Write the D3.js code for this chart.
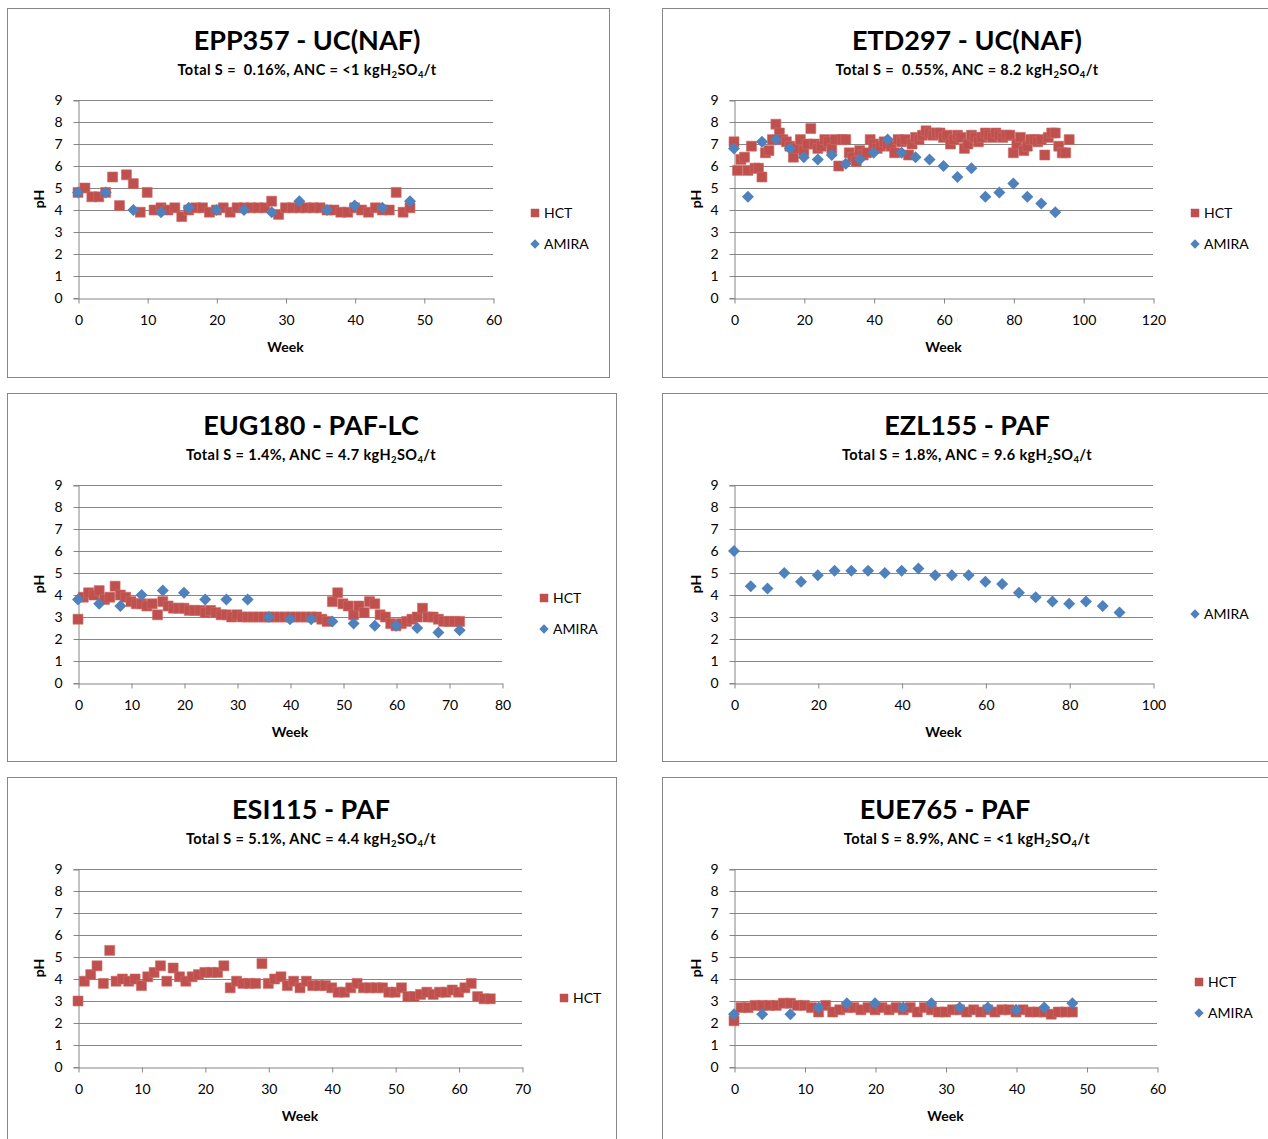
<!DOCTYPE html>
<html>
<head>
<meta charset="utf-8">
<script src="https://cdn.jsdelivr.net/npm/d3@7"></script>
<style>
  body { margin: 0; background: #fff; }
  svg text { font-family: Lato, 'Open Sans', sans-serif; fill: #000; }
</style>
</head>
<body>
<svg id="chart" width="1268" height="1139"></svg>
<script>
// ---- chart texts ----
const titles = ['EPP357 - UC(NAF)', 'ETD297 - UC(NAF)', 'EUG180 - PAF-LC', 'EZL155 - PAF', 'ESI115 - PAF', 'EUE765 - PAF'];
const totalS = [' 0.16%', ' 0.55%', '1.4%', '1.8%', '5.1%', '8.9%'];
const anc = ['<1', '8.2', '4.7', '9.6', '4.4', '<1'];
const xMaxes = [60, 120, 80, 100, 70, 60];
const yTicks = [0, 1, 2, 3, 4, 5, 6, 7, 8, 9];

// ---- EPP357: HCT weekly from week 0, AMIRA every 4 weeks ----
const eppHct = [4.8, 5.0, 4.6, 4.6, 4.8, 5.5, 4.2, 5.6, 5.2, 3.9, 4.8, 4.0, 4.1, 4.0, 4.1, 3.7, 4.0, 4.1, 4.1, 3.9,
  4.0, 4.1, 3.9, 4.1, 4.1, 4.1, 4.1, 4.1, 4.4, 3.8, 4.1, 4.1, 4.1, 4.1, 4.1, 4.1, 4.0, 4.0, 3.9, 3.9,
  4.1, 4.0, 3.9, 4.1, 4.0, 4.0, 4.8, 3.9, 4.1];
const eppAmiraWeeks = [0, 4, 8, 12, 16, 20, 24, 28, 32, 36, 40, 44, 48];
const eppAmira = [4.8, 4.8, 4.0, 3.9, 4.1, 4.0, 4.0, 3.9, 4.4, 4.0, 4.2, 4.1, 4.4];

// ---- ETD297 ----
const etdHct = [7.1, 5.8, 6.3, 6.4, 5.8, 6.9, 5.9, 5.9, 5.5, 6.6, 6.7, 7.2, 7.9, 7.5, 7.2, 7.1, 6.9, 6.4, 6.8, 7.2,
  6.7, 7.0, 7.7, 7.0, 6.8, 6.9, 7.2, 7.1, 6.8, 7.2, 6.0, 7.2, 7.2, 6.6, 6.4, 6.2, 6.7, 6.5, 6.6, 7.2,
  7.0, 6.8, 6.9, 7.1, 7.0, 6.9, 6.6, 7.2, 7.1, 7.2, 6.5, 7.0, 7.3, 7.2, 7.4, 7.6, 7.5, 7.4, 7.5, 7.5,
  7.3, 7.4, 7.0, 7.2, 7.4, 7.3, 6.8, 7.0, 7.4, 7.3, 7.1, 7.3, 7.5, 7.4, 7.3, 7.5, 7.4, 7.3, 7.4, 7.4,
  6.6, 7.0, 7.3, 6.7, 6.9, 7.2, 7.2, 7.1, 7.2, 6.5, 7.3, 7.5, 7.5, 6.9, 6.6, 6.6, 7.2];
const etdAmiraWeeks = [0, 4, 8, 12, 16, 20, 24, 28, 32, 36, 40, 44, 48, 52, 56, 60, 64, 68, 72, 76, 80, 84, 88, 92];
const etdAmira = [6.8, 4.6, 7.1, 7.2, 6.8, 6.4, 6.3, 6.5, 6.1, 6.3, 6.6, 7.2, 6.6, 6.4, 6.3, 6.0, 5.5, 5.9,
  4.6, 4.8, 5.2, 4.6, 4.3, 3.9];

// ---- EUG180 ----
const eugHct = [2.9, 3.9, 4.1, 4.0, 4.2, 3.8, 3.9, 4.4, 4.0, 3.9, 3.7, 3.6, 3.6, 3.5, 3.6, 3.1, 3.7, 3.5, 3.4, 3.4,
  3.4, 3.3, 3.3, 3.3, 3.2, 3.3, 3.2, 3.1, 3.1, 3.0, 3.1, 3.0, 3.0, 3.0, 3.0, 3.0, 3.0, 3.0, 3.0, 3.0,
  3.0, 3.0, 3.0, 3.0, 3.0, 3.0, 2.9, 2.8, 3.7, 4.1, 3.6, 3.5, 3.1, 3.5, 3.2, 3.7, 3.6, 3.1, 3.0, 2.7,
  2.6, 2.7, 2.8, 2.9, 3.0, 3.4, 3.0, 3.0, 2.9, 2.8, 2.8, 2.8, 2.8];
const eugAmiraWeeks = [0, 4, 8, 12, 16, 20, 24, 28, 32, 36, 40, 44, 48, 52, 56, 60, 64, 68, 72];
const eugAmira = [3.8, 3.6, 3.5, 4.0, 4.2, 4.1, 3.8, 3.8, 3.8, 3.0, 2.9, 2.9, 2.8, 2.7, 2.6, 2.6, 2.5, 2.3, 2.4];

// ---- EZL155 (AMIRA only) ----
const ezlAmiraWeeks = [0, 4, 8, 12, 16, 20, 24, 28, 32, 36, 40, 44, 48, 52, 56, 60, 64, 68, 72, 76, 80, 84, 88, 92];
const ezlAmira = [6.0, 4.4, 4.3, 5.0, 4.6, 4.9, 5.1, 5.1, 5.1, 5.0, 5.1, 5.2, 4.9, 4.9, 4.9, 4.6, 4.5, 4.1,
  3.9, 3.7, 3.6, 3.7, 3.5, 3.2];

// ---- ESI115 (HCT only) ----
const esiHct = [3.0, 3.9, 4.2, 4.6, 3.8, 5.3, 3.9, 4.0, 3.9, 4.0, 3.7, 4.1, 4.3, 4.6, 3.9, 4.5, 4.1, 3.9, 4.1, 4.2,
  4.3, 4.3, 4.3, 4.6, 3.6, 3.9, 3.8, 3.8, 3.8, 4.7, 3.8, 4.0, 4.1, 3.7, 3.9, 3.6, 3.9, 3.7, 3.7, 3.7,
  3.6, 3.4, 3.4, 3.6, 3.8, 3.6, 3.6, 3.6, 3.6, 3.4, 3.4, 3.6, 3.2, 3.2, 3.3, 3.4, 3.3, 3.4, 3.4, 3.5,
  3.4, 3.6, 3.8, 3.2, 3.1, 3.1];

// ---- EUE765 ----
const eueHct = [2.1, 2.7, 2.7, 2.8, 2.8, 2.8, 2.8, 2.9, 2.9, 2.8, 2.8, 2.7, 2.5, 2.8, 2.5, 2.6, 2.7, 2.7, 2.6, 2.7,
  2.6, 2.7, 2.6, 2.7, 2.6, 2.7, 2.5, 2.7, 2.6, 2.5, 2.5, 2.6, 2.6, 2.5, 2.6, 2.5, 2.6, 2.5, 2.6, 2.6,
  2.5, 2.6, 2.5, 2.5, 2.5, 2.4, 2.5, 2.5, 2.5];
const eueAmiraWeeks = [0, 4, 8, 12, 16, 20, 24, 28, 32, 36, 40, 44, 48];
const eueAmira = [2.4, 2.4, 2.4, 2.7, 2.9, 2.9, 2.7, 2.9, 2.7, 2.7, 2.6, 2.7, 2.9];

const hctSeries = [eppHct, etdHct, eugHct, null, esiHct, eueHct];
const amiraWeeks = [eppAmiraWeeks, etdAmiraWeeks, eugAmiraWeeks, ezlAmiraWeeks, null, eueAmiraWeeks];
const amiraSeries = [eppAmira, etdAmira, eugAmira, ezlAmira, null, eueAmira];

// ---- layout ----
const HCT_COLOR = '#C0504D';
const AMIRA_COLOR = '#4F81BD';
const GRID = '#868686';
const boxes = [
  { x: 7, y: 8, w: 602, h: 369, left: 71, right: 486, tcx: 300 },
  { x: 662, y: 8, w: 608, h: 369, left: 72, right: 491, tcx: 305 },
  { x: 7, y: 393, w: 609, h: 368, left: 71, right: 495, tcx: 304 },
  { x: 662, y: 393, w: 608, h: 368, left: 72, right: 491, tcx: 305 },
  { x: 7, y: 777, w: 609, h: 370, left: 71, right: 515, tcx: 304 },
  { x: 662, y: 777, w: 608, h: 370, left: 72, right: 495, tcx: 283, scx: 305 }
];
const plotTop = 92;
const plotBottom = 290;

const svg = d3.select('#chart');
const square = d3.symbol().type(d3.symbolSquare);

function styleAxis(sel) {
  sel.select('.domain').attr('stroke', GRID);
  sel.selectAll('.tick line').attr('stroke', GRID);
  sel.selectAll('.tick text')
    .style('font-size', '14px')
    .style('font-family', 'Lato, sans-serif')
    .attr('fill', '#000');
}

titles.forEach((title, i) => {
  const b = boxes[i];
  const g = svg.append('g').attr('transform', `translate(${b.x}, ${b.y})`);

  g.append('rect')
    .attr('x', 0.5).attr('y', 0.5)
    .attr('width', b.w).attr('height', b.h)
    .attr('fill', '#fff')
    .attr('stroke', GRID);

  // titles
  g.append('text')
    .attr('x', b.tcx).attr('y', 42)
    .attr('text-anchor', 'middle')
    .style('font-size', '27px').style('font-weight', 'bold')
    .text(title);

  const sub = g.append('text')
    .attr('x', b.scx || b.tcx).attr('y', 67)
    .attr('text-anchor', 'middle')
    .style('white-space', 'pre')
    .style('letter-spacing', '0.4px')
    .style('font-size', '14.5px').style('font-weight', 'bold');
  sub.append('tspan').text(`Total S = ${totalS[i]}, ANC = ${anc[i]} kgH`);
  sub.append('tspan').attr('dy', 3).style('font-size', '9.5px').text('2');
  sub.append('tspan').attr('dy', -3).text('SO');
  sub.append('tspan').attr('dy', 3).style('font-size', '9.5px').text('4');
  sub.append('tspan').attr('dy', -3).text('/t');

  const x = d3.scaleLinear().domain([0, xMaxes[i]]).range([b.left, b.right]);
  const y = d3.scaleLinear().domain([0, 9]).range([plotBottom, plotTop]);

  // grid
  g.append('g')
    .selectAll('line')
    .data(yTicks.slice(1))
    .join('line')
    .attr('x1', b.left).attr('x2', b.right)
    .attr('y1', d => Math.round(y(d)) + 0.5).attr('y2', d => Math.round(y(d)) + 0.5)
    .attr('stroke', GRID);

  // y axis
  const yAxis = g.append('g')
    .attr('transform', `translate(${b.left + 0.5}, 0.5)`)
    .call(d3.axisLeft(y).tickValues(yTicks).tickSize(5).tickPadding(11));
  styleAxis(yAxis);
  yAxis.selectAll('.tick').attr('transform', d => `translate(0, ${Math.round(y(d))})`);

  // x axis
  const xAxis = g.append('g')
    .attr('transform', `translate(0.5, ${plotBottom + 0.5})`)
    .call(d3.axisBottom(x)
      .tickValues(d3.range(0, xMaxes[i] + 1, xMaxes[i] > 80 ? 20 : 10))
      .tickSize(5).tickPadding(12).tickSizeOuter(0));
  styleAxis(xAxis);

  // axis titles
  g.append('text')
    .attr('transform', `translate(${i % 2 ? 39 : 37}, ${(plotTop + plotBottom) / 2}) rotate(-90)`)
    .attr('text-anchor', 'middle')
    .style('font-size', '14px').style('font-weight', 'bold')
    .text('pH');
  g.append('text')
    .attr('x', (b.left + b.right) / 2).attr('y', 344)
    .attr('text-anchor', 'middle')
    .style('font-size', '14px').style('font-weight', 'bold')
    .text('Week');

  // points
  const hct = hctSeries[i];
  if (hct) {
    g.append('g').selectAll('path')
      .data(hct)
      .join('path')
      .attr('d', square.size(100)())
      .attr('transform', (d, k) => `translate(${x(k)}, ${y(d)})`)
      .attr('fill', HCT_COLOR)
      .attr('stroke', '#CD6B68').attr('stroke-width', 0.6);
  }
  const am = amiraSeries[i];
  if (am) {
    const weeks = amiraWeeks[i];
    g.append('g').selectAll('path')
      .data(am)
      .join('path')
      .attr('d', square.size(72)())
      .attr('transform', (d, k) => `translate(${x(weeks[k])}, ${y(d)}) rotate(45)`)
      .attr('fill', AMIRA_COLOR);
  }

  // legend
  const entries = [];
  if (hct) entries.push('HCT');
  if (am) entries.push('AMIRA');
  const lx = b.right + 42;
  const ly0 = entries.length === 2 ? 205 : 221;
  entries.forEach((name, k) => {
    const ly = ly0 + k * 31;
    g.append('path')
      .attr('d', square.size(name === 'HCT' ? 72 : 44)())
      .attr('transform', `translate(${lx}, ${ly})` + (name === 'AMIRA' ? ' rotate(45)' : ''))
      .attr('fill', name === 'HCT' ? HCT_COLOR : AMIRA_COLOR);
    g.append('text')
      .attr('x', lx + 9).attr('y', ly + 5)
      .style('font-size', '14px')
      .text(name);
  });
});
</script>
</body>
</html>
